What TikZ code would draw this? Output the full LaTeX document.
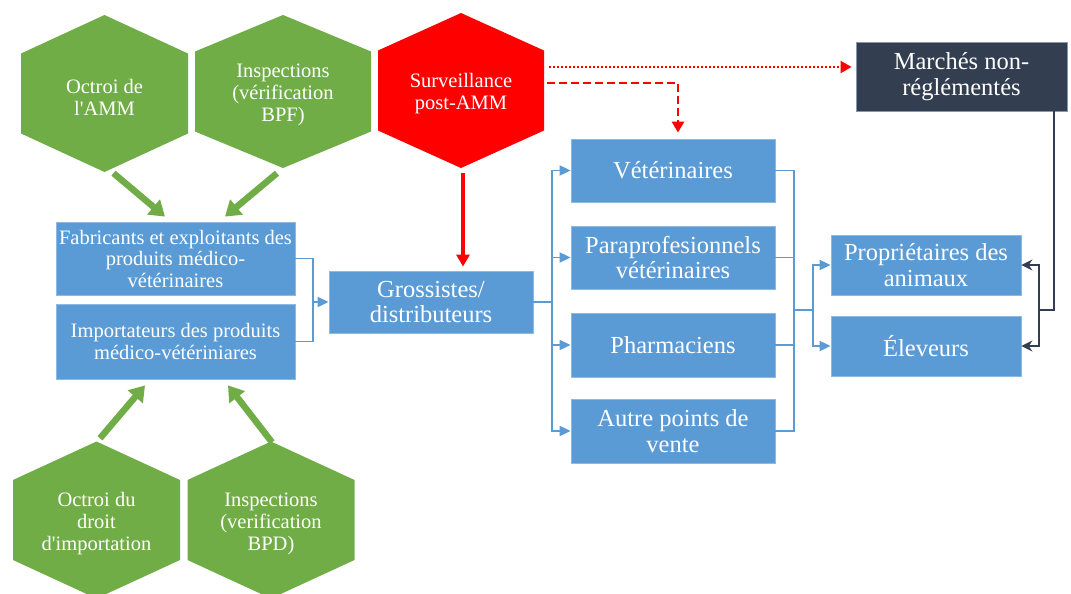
\documentclass[tikz,border=0pt]{standalone}
\usepackage{fontspec}
\setmainfont{Liberation Serif}
\usetikzlibrary{arrows.meta,calc}
\definecolor{hexgreen}{HTML}{70AD47}
\definecolor{boxblue}{HTML}{5B9BD5}
\definecolor{boxedge}{HTML}{8DB9E3}
\definecolor{hexred}{HTML}{FF0000}
\definecolor{darkbox}{HTML}{333F50}
\definecolor{darkedge}{HTML}{8497B0}
\newcommand\hexshape[5]{%
  \fill[#5] (#1,#2) ++(0,-#4) -- ++(#3,#4-40) -- ++(0,80) -- ++(-#3,#4-40)
    -- ++(-#3,-#4+40) -- ++(0,-80) -- cycle;}
\newcommand\hexnode[7]{%
  \hexshape{#2}{#3}{#4}{#5}{#6}
  \node[hextext, minimum width={2*#4pt}, minimum height={2*#5pt}] (#1) at (#2,#3) {#7};}
\begin{document}
\begin{tikzpicture}[x=1pt,y=-1pt,
  hextext/.style={text=white, font=\fontsize{20.5}{22}\selectfont, align=center, inner sep=0pt, yshift=-3.5pt},
  bluebox/.style={fill=boxblue, draw=boxedge, line width=0.8pt, text=white, align=center, inner sep=0pt},
  darkbx/.style={fill=darkbox, draw=darkedge, line width=0.8pt, text=white, align=center, inner sep=0pt},
  bigtext/.style={font=\fontsize{24.5}{25.5}\selectfont},
  smalltext/.style={font=\fontsize{20.5}{21.5}\selectfont},
  bluecon/.style={draw=boxblue, line width=1.8pt},
  bluearr/.style={bluecon, -{Triangle[length=11pt,width=10pt]}},
  greenarr/.style={draw=hexgreen, line width=6.5pt, -{Triangle[length=15pt,width=19pt]}},
  redarr/.style={draw=hexred, line width=3.2pt, -{Triangle[length=12pt,width=13pt]}},
  reddash/.style={draw=hexred, line width=2.7pt, dash pattern=on 8pt off 4pt, -{Triangle[length=11pt,width=12pt]}},
  reddot/.style={draw=hexred, line width=2pt, dash pattern=on 2pt off 2pt, -{Triangle[length=11pt,width=12pt]}},
  darkcon/.style={draw=darkbox, line width=2pt},
  darkarr/.style={darkcon, -{Stealth[length=11pt,width=11pt]}}
]
\useasboundingbox (0,0) rectangle (1071,594);
\fill[white] (0,0) rectangle (1071,594);

% hexagons (text nodes are shifted 3.5 down; anchors shift with them)
\hexnode{h1}{104.5}{93.5}{83.5}{78.5}{hexgreen}{Octroi de\\l\textquotesingle AMM}
\hexnode{h2}{283}{91.5}{88}{76.5}{hexgreen}{Inspections\\(vérification\\BPF)}
\hexnode{h3}{461}{90.5}{83}{77.5}{hexred}{Surveillance\\post-AMM}
\hexnode{h4}{96.5}{520}{83.5}{78.5}{hexgreen}{Octroi du\\droit\\d\textquotesingle importation}
\hexnode{h5}{271}{520}{83.5}{78.5}{hexgreen}{Inspections\\(verification\\BPD)}

% boxes
\node[bluebox,smalltext,minimum width=239pt,minimum height=73pt] (fab) at (175.5,258.5)
  {Fabricants et exploitants des\\produits médico-\\vétérinaires};
\node[bluebox,smalltext,minimum width=239pt,minimum height=75pt] (imp) at (175.5,341.5)
  {Importateurs des produits\\médico-vétériniares};
\node[bluebox,bigtext,minimum width=204pt,minimum height=62pt] (gross) at (431,302)
  {Grossistes/\\distributeurs};
\node[bluebox,bigtext,minimum width=204pt,minimum height=63pt] (vet) at (673,170.5) {Vétérinaires};
\node[bluebox,bigtext,minimum width=204pt,minimum height=63pt] (para) at (673,257.5)
  {Paraprofesionnels\\vétérinaires};
\node[bluebox,bigtext,minimum width=204pt,minimum height=64pt] (pharm) at (673,345) {Pharmaciens};
\node[bluebox,bigtext,minimum width=204pt,minimum height=64pt] (autre) at (673,431)
  {Autre points de\\vente};
\node[bluebox,bigtext,minimum width=190pt,minimum height=60pt] (prop) at (926,265)
  {Propriétaires des\\animaux};
\node[bluebox,bigtext,minimum width=190pt,minimum height=60pt] (elev) at (926,346) {Éleveurs};
\node[darkbx,bigtext,minimum width=211pt,minimum height=69pt] (march) at (961.5,76.5)
  {Marchés non-\\réglémentés};

% blue connectors
\coordinate (busA) at (313,302);
\coordinate (busB) at (552,302);
\coordinate (busC) at (794,310);
\coordinate (busD) at (813,310);
\draw[bluecon] (fab.east) -| (busA);
\draw[bluecon] (imp.east) -| (busA);
\draw[bluearr] (busA) -- (gross.west);
\draw[bluecon] (gross.east) -- (busB);
\draw[bluearr] (busB) |- (vet.west);
\draw[bluearr] (busB) |- (para.west);
\draw[bluearr] (busB) |- (pharm.west);
\draw[bluearr] (busB) |- (autre.west);
\draw[bluecon] (vet.east) -| (busC);
\draw[bluecon] (para.east) -| (busC);
\draw[bluecon] (pharm.east) -| (busC);
\draw[bluecon] (autre.east) -| (busC);
\draw[bluecon] (busC) -- (busD);
\draw[bluearr] (busD) |- (prop.west);
\draw[bluearr] (busD) |- (elev.west);

% green arrows
\draw[greenarr] ($(h1.south)+(9,-2.5)$) -- ($(fab.north)+(-10.5,-5)$);
\draw[greenarr] ($(h2.south)+(-6,1.5)$) -- ($(fab.north)+(49.5,-5)$);
\draw[greenarr] ($(h4.north)+(3.5,-6.5)$) -- ($(imp.south)+(-30.5,6)$);
\draw[greenarr] ($(h5.north)+(1,-2.5)$) -- ($(imp.south)+(52.5,6)$);

% red arrows
\draw[redarr] ($(h3.south)+(2,1.5)$) -- ($(gross.north)+(32,-4)$);
\draw[reddash] ($(h3.east)+(3,-11)$) -| ($(vet.north)+(5,-6)$);
\draw[reddot] ($(h3.east)+(5,-27)$) -- ($(march.west)+(-4,-9.5)$);

% dark connectors
\coordinate (dk) at (1039,310);
\draw[darkcon] ($(march.south east)+(-13,0)$) |- (dk);
\draw[darkarr] (dk) |- (prop.east);
\draw[darkarr] (dk) |- (elev.east);
\end{tikzpicture}
\end{document}
